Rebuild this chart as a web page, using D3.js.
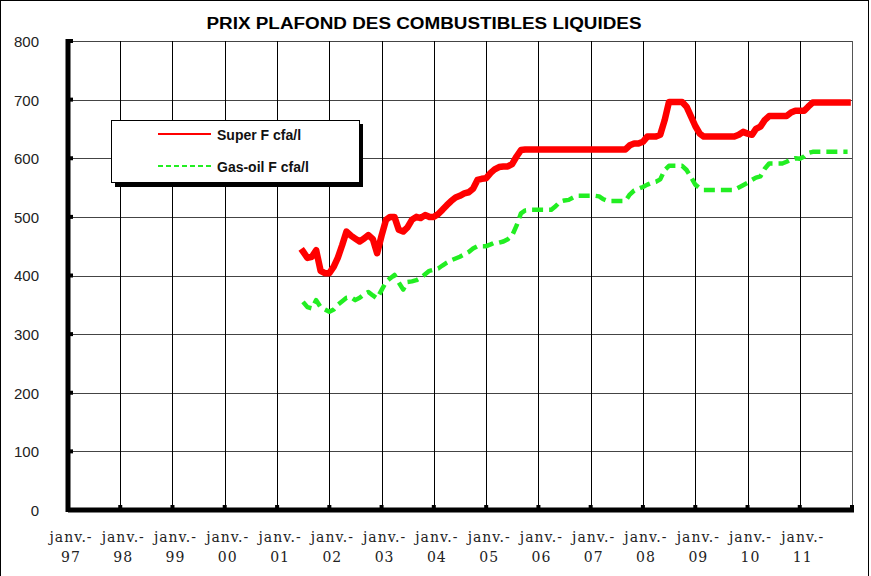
<!DOCTYPE html>
<html><head><meta charset="utf-8">
<script src="https://cdn.jsdelivr.net/npm/d3@7/dist/d3.min.js"></script>
<style>body{margin:0;background:#fff}svg{display:block}</style>
</head><body>
<svg id="chart" width="871" height="576"></svg>
<script>
const title = "PRIX PLAFOND DES COMBUSTIBLES LIQUIDES";
const seriesNames = ["Super F cfa/l", "Gas-oil F cfa/l"];
const yTicks = [0, 100, 200, 300, 400, 500, 600, 700, 800];
const xYears = [1997,1998,1999,2000,2001,2002,2003,2004,2005,2006,2007,2008,2009,2010,2011];
const xTickLabels = ["97","98","99","00","01","02","03","04","05","06","07","08","09","10","11"];
const firstMonth = [2001, 6]; // juillet 2001 (month index 0-based)
// monthly values, juil. 2001 -> déc. 2011
const superF = [
 441,430,432,443,408,404,404,415,430,452,475,468,
 463,458,463,469,462,438,468,495,500,500,478,475,
 482,495,500,498,503,500,500,505,512,520,527,533,
 536,540,542,548,563,565,566,575,581,585,586,586,
 590,603,614,615,615,615,615,615,615,615,615,615,
 615,615,615,615,615,615,615,615,615,615,615,615,
 615,615,615,622,625,625,628,637,637,637,640,665,
 696,696,696,696,688,672,655,642,637,637,637,637,
 637,637,637,637,640,645,642,640,650,654,665,672,
 672,672,672,672,678,681,681,681,688,695,695,695,
 695,695,695,695,695,695
];
const gasoil = [
 355,346,344,358,346,342,338,342,350,356,362,363,
 358,362,368,372,366,361,375,389,395,401,388,376,
 389,390,392,396,402,408,410,412,417,422,426,429,
 432,436,440,446,450,450,450,453,456,456,458,462,
 468,485,506,511,512,512,512,512,512,512,518,526,
 528,529,533,536,536,536,536,536,535,530,527,527,
 527,527,527,538,545,548,551,555,558,560,564,580,
 587,587,587,587,580,568,555,549,546,546,546,546,
 546,546,546,546,550,554,558,563,567,569,582,591,
 591,591,591,594,598,600,599,603,609,611,611,611,
 611,611,611,611,611,611
];

const svg = d3.select("#chart");
const L = 68, R = 852, T = 41, B = 510;
const x = d3.scaleTime().domain([new Date(1997,0,1), new Date(2012,0,1)]).range([L, R]);
const y = d3.scaleLinear().domain([0, 800]).range([B, T]);
const dateOf = i => new Date(firstMonth[0], firstMonth[1] + i, 1);

// outer frame
svg.append("rect").attr("x",0.5).attr("y",0.5).attr("width",868).attr("height",580)
  .attr("fill","#fff").attr("stroke","#000");

// title
svg.append("text").attr("x",424).attr("y",29).attr("text-anchor","middle")
  .attr("font-family","Liberation Sans, Arial, sans-serif").attr("font-weight","bold")
  .attr("font-size",16).attr("textLength",435).attr("lengthAdjust","spacingAndGlyphs").text(title);

// gridlines
const g = svg.append("g");
g.selectAll("line.h").data(yTicks.filter(v => v > 0)).join("line")
  .attr("x1",L).attr("x2",R).attr("y1",d=>Math.round(y(d))+0.5).attr("y2",d=>Math.round(y(d))+0.5)
  .attr("stroke", "#444").attr("stroke-width",1);
g.selectAll("line.v").data(xYears.slice(1).concat([2012])).join("line")
  .attr("y1",T).attr("y2",B).attr("x1",d=>Math.round(x(new Date(d,0,1)))+0.5).attr("x2",d=>Math.round(x(new Date(d,0,1)))+0.5)
  .attr("stroke", d => d === 2012 ? "#555" : "#000").attr("stroke-width",1);

// axes (thick)
svg.append("line").attr("x1",L).attr("x2",L).attr("y1",T-2).attr("y2",B+2).attr("stroke","#000").attr("stroke-width",5);
svg.append("line").attr("x1",L).attr("x2",R+2).attr("y1",B).attr("y2",B).attr("stroke","#000").attr("stroke-width",5);
// tick marks (small squares)
svg.selectAll("rect.yt").data(yTicks).join("rect")
  .attr("x",L).attr("y",d=>y(d)-2).attr("width",5).attr("height",4).attr("fill","#000");
svg.selectAll("rect.xt").data(xYears.slice(1).concat([2012])).join("rect")
  .attr("x",d=>x(new Date(d,0,1))-2).attr("y",B-5).attr("width",4).attr("height",5).attr("fill","#000");

// y labels
const yAxis = d3.axisLeft(y).tickValues(yTicks).tickSize(0).tickPadding(0);
const ya = svg.append("g").attr("transform",`translate(39,0)`).call(yAxis);
ya.select(".domain").remove();
ya.selectAll("text").attr("font-family","Liberation Sans, Arial, sans-serif").attr("font-size",15).attr("fill","#222").attr("dy","0.36em");

// x labels
const xAxis = d3.axisBottom(x).tickValues(xYears.map(d=>new Date(d,0,1))).tickSize(0).tickFormat(()=>"");
const xa = svg.append("g").attr("transform",`translate(2.5,0)`).call(xAxis);
xa.select(".domain").remove();
xa.selectAll(".tick text").each(function(d,i){
  const t = d3.select(this).attr("y",0).attr("dy",null)
    .attr("font-family","DejaVu Serif, serif").attr("font-size",14).attr("fill","#222").attr("letter-spacing",1);
  t.append("tspan").attr("x",0).attr("y",542).text("janv.-");
  t.append("tspan").attr("x",0).attr("y",562).text(xTickLabels[i]);
});

// lines
const line = d3.line().x((d,i)=>x(dateOf(i))).y(d=>y(d));
svg.append("path").datum(gasoil).attr("d",line).attr("fill","none")
  .attr("stroke","#22ee22").attr("stroke-width",4.5).attr("stroke-dasharray","11,6").attr("stroke-linejoin","round");
svg.append("path").datum(superF).attr("d",line).attr("fill","none")
  .attr("stroke","#ff0000").attr("stroke-width",6.5).attr("stroke-linejoin","round").attr("stroke-linecap","square");

// legend
const lg = svg.append("g");
lg.append("rect").attr("x",115).attr("y",124).attr("width",248).attr("height",63).attr("fill","#000");
lg.append("rect").attr("x",111.5).attr("y",120.5).attr("width",248).attr("height",62).attr("fill","#fff").attr("stroke","#000");
const colors = ["#ff0000","#22ee22"], ly = [134, 166];
seriesNames.forEach((n,i)=>{
  lg.append("line").attr("x1",158).attr("x2",211).attr("y1",ly[i]).attr("y2",ly[i])
    .attr("stroke",colors[i]).attr("stroke-width",2).attr("stroke-dasharray", i ? "5,3" : null);
  lg.append("text").attr("x",217).attr("y",ly[i]+5.5).attr("font-family","Liberation Sans, Arial, sans-serif")
    .attr("font-weight","bold").attr("font-size",14).attr("fill","#111").text(n);
});
</script>
</body></html>
